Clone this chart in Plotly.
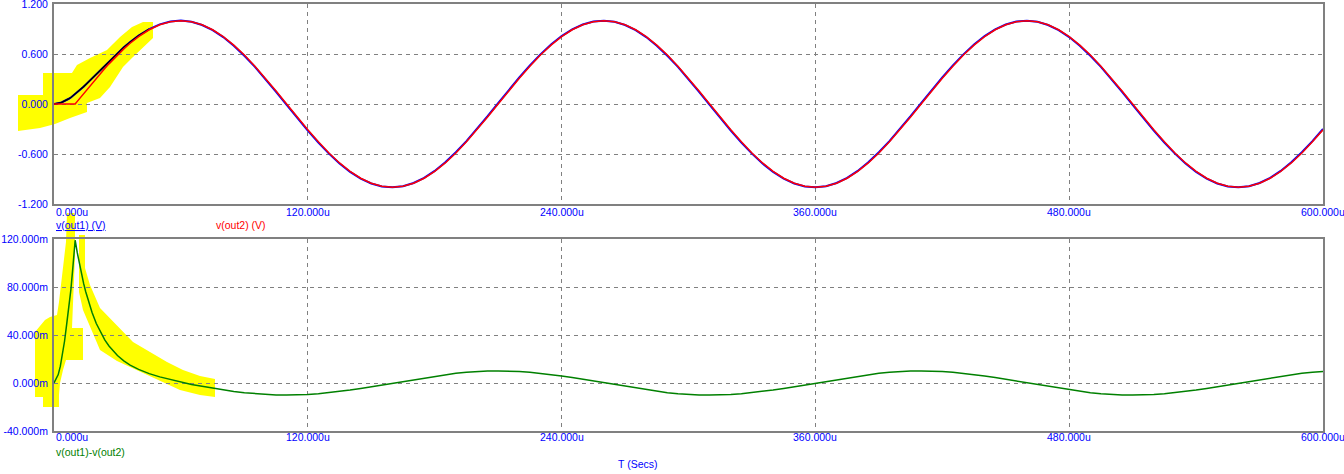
import plotly.graph_objects as go

# ---------------- data ----------------
T_US = [0, 1, 2, 3, 4, 5, 6, 7, 8, 9, 10, 11, 12, 13, 14, 15, 16, 18, 20, 22, 24, 26, 28, 30, 33, 36, 40, 45, 50, 55,
        60, 65, 70, 75, 80, 85, 90, 95, 100, 105,
        110, 115, 120, 125, 130, 135, 140, 145, 150, 155,
        160, 165, 170, 175, 180, 185, 190, 195, 200, 205,
        210, 215, 220, 225, 230, 235, 240, 245, 250, 255,
        260, 265, 270, 275, 280, 285, 290, 295, 300, 305,
        310, 315, 320, 325, 330, 335, 340, 345, 350, 355,
        360, 365, 370, 375, 380, 385, 390, 395, 400, 405,
        410, 415, 420, 425, 430, 435, 440, 445, 450, 455,
        460, 465, 470, 475, 480, 485, 490, 495, 500, 505,
        510, 515, 520, 525, 530, 535, 540, 545, 550, 555,
        560, 565, 570, 575, 580, 585, 590, 595, 600]

OUT2_V = [0, 0, 0, 0, 0, 0, 0, 0, 0, 0, 0, 0.0314, 0.0628, 0.0941, 0.1253, 0.1564, 0.1874, 0.2487, 0.3090, 0.3681,
          0.4258, 0.4818, 0.5358, 0.5878, 0.6613, 0.7290, 0.8090, 0.8910, 0.9511, 0.9877,
          1.0, 0.9877, 0.9511, 0.8910, 0.8090, 0.7071, 0.5878, 0.4540, 0.3090, 0.1564,
          0.0, -0.1564, -0.3090, -0.4540, -0.5878, -0.7071, -0.8090, -0.8910, -0.9511, -0.9877,
          -1.0, -0.9877, -0.9511, -0.8910, -0.8090, -0.7071, -0.5878, -0.4540, -0.3090, -0.1564,
          0.0, 0.1564, 0.3090, 0.4540, 0.5878, 0.7071, 0.8090, 0.8910, 0.9511, 0.9877,
          1.0, 0.9877, 0.9511, 0.8910, 0.8090, 0.7071, 0.5878, 0.4540, 0.3090, 0.1564,
          0.0, -0.1564, -0.3090, -0.4540, -0.5878, -0.7071, -0.8090, -0.8910, -0.9511, -0.9877,
          -1.0, -0.9877, -0.9511, -0.8910, -0.8090, -0.7071, -0.5878, -0.4540, -0.3090, -0.1564,
          0.0, 0.1564, 0.3090, 0.4540, 0.5878, 0.7071, 0.8090, 0.8910, 0.9511, 0.9877,
          1.0, 0.9877, 0.9511, 0.8910, 0.8090, 0.7071, 0.5878, 0.4540, 0.3090, 0.1564,
          0.0, -0.1564, -0.3090, -0.4540, -0.5878, -0.7071, -0.8090, -0.8910, -0.9511, -0.9877,
          -1.0, -0.9877, -0.9511, -0.8910, -0.8090, -0.7071, -0.5878, -0.4540, -0.3090]

OUT1_V = [0, 0.003, 0.007, 0.014, 0.024, 0.035, 0.049, 0.063, 0.078, 0.098, 0.119, 0.1400, 0.1620, 0.1849, 0.2083,
          0.2324, 0.2570, 0.3074, 0.3586, 0.4102, 0.4617, 0.5126, 0.5622, 0.6107, 0.6797, 0.7439, 0.8203, 0.8988,
          0.9562, 0.9905,
          1.0007, 0.9865, 0.9483, 0.8867, 0.8032, 0.7000, 0.5797, 0.4451, 0.2995, 0.1465,
          -0.0100, -0.1663, -0.3185, -0.4629, -0.5959, -0.7142, -0.8149, -0.8955, -0.9542, -0.9893,
          -1.0, -0.9861, -0.9480, -0.8865, -0.8031, -0.7000, -0.5797, -0.4451, -0.2995, -0.1465,
          0.0100, 0.1663, 0.3185, 0.4629, 0.5959, 0.7142, 0.8149, 0.8955, 0.9542, 0.9893,
          1.0, 0.9861, 0.9480, 0.8865, 0.8031, 0.7000, 0.5797, 0.4451, 0.2995, 0.1465,
          -0.0100, -0.1663, -0.3185, -0.4629, -0.5959, -0.7142, -0.8149, -0.8955, -0.9542, -0.9893,
          -1.0, -0.9861, -0.9480, -0.8865, -0.8031, -0.7000, -0.5797, -0.4451, -0.2995, -0.1465,
          0.0100, 0.1663, 0.3185, 0.4629, 0.5959, 0.7142, 0.8149, 0.8955, 0.9542, 0.9893,
          1.0, 0.9861, 0.9480, 0.8865, 0.8031, 0.7000, 0.5797, 0.4451, 0.2995, 0.1465,
          -0.0100, -0.1663, -0.3185, -0.4629, -0.5959, -0.7142, -0.8149, -0.8955, -0.9542, -0.9893,
          -1.0, -0.9861, -0.9480, -0.8865, -0.8031, -0.7000, -0.5797, -0.4451, -0.2995]

DIFF_V = [0, 0.003, 0.007, 0.014, 0.024, 0.035, 0.049, 0.063, 0.078, 0.098, 0.119, 0.1086, 0.0992, 0.0908, 0.0830,
          0.0760, 0.0696, 0.0587, 0.0496, 0.0421, 0.0359, 0.0308, 0.0264, 0.0229, 0.0184, 0.0149, 0.0113, 0.0078,
          0.0051, 0.0028,
          0.0007, -0.0012, -0.0028, -0.0043, -0.0058, -0.0071, -0.0081, -0.0089, -0.0095, -0.0099,
          -0.0100, -0.0099, -0.0095, -0.0089, -0.0081, -0.0071, -0.0059, -0.0045, -0.0031, -0.0016,
          0.0, 0.0016, 0.0031, 0.0045, 0.0059, 0.0071, 0.0081, 0.0089, 0.0095, 0.0099,
          0.0100, 0.0099, 0.0095, 0.0089, 0.0081, 0.0071, 0.0059, 0.0045, 0.0031, 0.0016,
          0.0, -0.0016, -0.0031, -0.0045, -0.0059, -0.0071, -0.0081, -0.0089, -0.0095, -0.0099,
          -0.0100, -0.0099, -0.0095, -0.0089, -0.0081, -0.0071, -0.0059, -0.0045, -0.0031, -0.0016,
          0.0, 0.0016, 0.0031, 0.0045, 0.0059, 0.0071, 0.0081, 0.0089, 0.0095, 0.0099,
          0.0100, 0.0099, 0.0095, 0.0089, 0.0081, 0.0071, 0.0059, 0.0045, 0.0031, 0.0016,
          0.0, -0.0016, -0.0031, -0.0045, -0.0059, -0.0071, -0.0081, -0.0089, -0.0095, -0.0099,
          -0.0100, -0.0099, -0.0095, -0.0089, -0.0081, -0.0071, -0.0059, -0.0045, -0.0031, -0.0016,
          0.0, 0.0016, 0.0031, 0.0045, 0.0059, 0.0071, 0.0081, 0.0089, 0.0095]

BLACK_END_US = 45  # early portion of v(out1) drawn in black

X_TICK_VALUES = [0, 120, 240, 360, 480, 600]
X_TICK_LABELS = ["0.000u", "120.000u", "240.000u", "360.000u", "480.000u", "600.000u"]
Y1_TICK_VALUES = [-1.2, -0.6, 0.0, 0.6, 1.2]
Y1_TICK_LABELS = ["-1.200", "-0.600", "0.000", "0.600", "1.200"]
Y2_TICK_VALUES = [-0.04, 0.0, 0.04, 0.08, 0.12]
Y2_TICK_LABELS = ["-40.000m", "0.000m", "40.000m", "80.000m", "120.000m"]

# yellow highlighter marks (time in us, value in V)
HL_TOP_T = [-17.02, -5.20, -5.20, 8.51, 10.87, 17.02, 25.06, 31.21, 36.88, 42.08, 46.81, 46.81, 37.35, 32.62,
            26.48, 21.75, 15.60, 15.60, 7.57, 0.47, -6.62, -17.02]
HL_TOP_V = [0.108, 0.108, 0.372, 0.372, 0.468, 0.552, 0.648, 0.804, 0.924, 0.984, 0.984, 0.792, 0.564, 0.444,
            0.204, 0.072, 0.012, -0.096, -0.168, -0.240, -0.288, -0.324]
HL_BOT_T = [-8.98, -4.26, -1.89, 1.42, 2.36, 3.78, 4.26, 5.20, 5.67, 6.15, 9.93, 9.93, 8.98, 8.51, 13.71, 13.71,
            5.67, 4.26, 2.84, 2.36, 2.36, -5.20, -5.20, -8.98, None,
            11.82, 14.66, 14.66, 17.02, 21.75, 29.79, 37.35, 45.39, 53.43, 60.99, 69.03, 76.12,
            76.12, 69.03, 59.57, 53.43, 45.39, 37.35, 29.79, 21.75, 17.02, 13.71, 11.82]
HL_BOT_V = [0.0425, 0.0525, 0.0550, 0.0567, 0.0675, 0.0875, 0.0958, 0.1092, 0.1175, 0.1417, 0.1417, 0.1067,
            0.0733, 0.0458, 0.0458, 0.0192, 0.0192, 0.0108, 0.0, -0.0100, -0.0200, -0.0200, -0.0117, -0.0117, None,
            0.1233, 0.1233, 0.0958, 0.0817, 0.0625, 0.0483, 0.0342, 0.0258, 0.0175, 0.0108, 0.0058, 0.0033,
            -0.0117, -0.0100, -0.0058, -0.0008, 0.0058, 0.0125, 0.0183, 0.0275, 0.0475, 0.0608, 0.0758]

# ---------------- layout geometry ----------------
W, H = 1344, 474
PX_L, PX_R = 54, 1323            # plot area left/right (px)
TOP_PY = (4, 204)                # top plot y extent (px)
BOT_PY = (239, 431)              # bottom plot y extent (px)
X_RANGE = [0, 600]
Y1_RANGE = [-1.2, 1.2]
Y2_RANGE = [-0.04, 0.12]

xdom = [PX_L / W, PX_R / W]
y1dom = [1 - TOP_PY[1] / H, 1 - TOP_PY[0] / H]
y2dom = [1 - BOT_PY[1] / H, 1 - BOT_PY[0] / H]

# full-figure helper axes (same units, extended to the whole page) for the highlighter marks
kx = (X_RANGE[1] - X_RANGE[0]) / (PX_R - PX_L)
full_x = [X_RANGE[0] - PX_L * kx, X_RANGE[1] + (W - PX_R) * kx]
k1 = (Y1_RANGE[1] - Y1_RANGE[0]) / (TOP_PY[1] - TOP_PY[0])
full_y1 = [Y1_RANGE[0] - (H - TOP_PY[1]) * k1, Y1_RANGE[1] + TOP_PY[0] * k1]
k2 = (Y2_RANGE[1] - Y2_RANGE[0]) / (BOT_PY[1] - BOT_PY[0])
full_y2 = [Y2_RANGE[0] - (H - BOT_PY[1]) * k2, Y2_RANGE[1] + BOT_PY[0] * k2]

BLUE = "#0000FF"
RED = "#FF0000"
GREEN = "#008000"
GRAY = "#808080"
YELLOW = "#FFFF00"
FONT = "Liberation Sans"
FS = 10.5

fig = go.Figure()

# highlighter marks (lowest layer)
fig.add_trace(go.Scatter(x=HL_TOP_T, y=HL_TOP_V, xaxis="x", yaxis="y", mode="lines", fill="toself",
                         fillcolor=YELLOW, line=dict(width=0, color=YELLOW), hoverinfo="skip", showlegend=False))
fig.add_trace(go.Scatter(x=HL_BOT_T, y=HL_BOT_V, xaxis="x", yaxis="y4", mode="lines", fill="toself",
                         fillcolor=YELLOW, line=dict(width=0, color=YELLOW), hoverinfo="skip", showlegend=False))

# top plot
fig.add_trace(go.Scatter(x=T_US, y=OUT1_V, xaxis="x2", yaxis="y2", mode="lines",
                         line=dict(color=BLUE, width=2), name="v(out1) (V)", showlegend=False))
t_black = [t for t in T_US if t <= BLACK_END_US]
v_black = OUT1_V[:len(t_black)]
fig.add_trace(go.Scatter(x=t_black, y=v_black, xaxis="x2", yaxis="y2", mode="lines",
                         line=dict(color="#000000", width=1.5), showlegend=False))
fig.add_trace(go.Scatter(x=T_US, y=OUT2_V, xaxis="x2", yaxis="y2", mode="lines",
                         line=dict(color=RED, width=1.5), name="v(out2) (V)", showlegend=False))

# bottom plot
fig.add_trace(go.Scatter(x=T_US, y=DIFF_V, xaxis="x3", yaxis="y3", mode="lines",
                         line=dict(color=GREEN, width=1.5), name="v(out1)-v(out2)", showlegend=False))

axis_common = dict(showline=True, mirror=True, linecolor=GRAY, linewidth=2,
                   showgrid=True, gridcolor=GRAY, gridwidth=1, griddash="4px,4px",
                   zeroline=False, ticks="", fixedrange=True, automargin=False)
hidden = dict(visible=False, fixedrange=True, automargin=False)

fig.update_layout(
    width=W, height=H,
    margin=dict(l=0, r=0, t=0, b=0, pad=0, autoexpand=False),
    paper_bgcolor="white", plot_bgcolor="rgba(0,0,0,0)",
    showlegend=False,
    font=dict(family=FONT, size=FS, color=BLUE),
    xaxis=dict(domain=[0, 1], range=full_x, **hidden),
    yaxis=dict(domain=[0, 1], range=full_y1, **hidden),
    yaxis4=dict(overlaying="y", range=full_y2, **hidden),
    xaxis2=dict(domain=xdom, range=X_RANGE, anchor="y2", tickvals=X_TICK_VALUES,
                showticklabels=False, **axis_common),
    yaxis2=dict(domain=y1dom, range=Y1_RANGE, anchor="x2", tickvals=Y1_TICK_VALUES, ticktext=Y1_TICK_LABELS,
                tickfont=dict(family=FONT, size=FS, color=BLUE), ticklabelstandoff=2,
                ticklabeloverflow="allow", **axis_common),
    xaxis3=dict(domain=xdom, range=X_RANGE, anchor="y3", tickvals=X_TICK_VALUES,
                showticklabels=False, **axis_common),
    yaxis3=dict(domain=y2dom, range=Y2_RANGE, anchor="x3", tickvals=Y2_TICK_VALUES, ticktext=Y2_TICK_LABELS,
                tickfont=dict(family=FONT, size=FS, color=BLUE), ticklabelstandoff=2,
                ticklabeloverflow="allow", **axis_common),
)

annotations = []
# x tick labels under each plot
for row_axis, py in (("x2", 212), ("x3", 437)):
    for val, lab in zip(X_TICK_VALUES, X_TICK_LABELS):
        annotations.append(dict(x=val, xref=row_axis, y=1 - py / H, yref="paper", text=lab, showarrow=False,
                                xanchor="left" if val == X_TICK_VALUES[0] else "center", yanchor="middle",
                                font=dict(family=FONT, size=FS, color=BLUE)))

# trace labels / axis title / page title
annotations += [
    dict(x=PX_L / W, y=1 - 225 / H, xref="paper", yref="paper", text="<u>v(out1) (V)</u>", showarrow=False,
         xanchor="left", yanchor="middle", font=dict(family=FONT, size=FS, color=BLUE)),
    dict(x=214 / W, y=1 - 225 / H, xref="paper", yref="paper", text="v(out2) (V)", showarrow=False,
         xanchor="left", yanchor="middle", font=dict(family=FONT, size=FS, color=RED)),
    dict(x=PX_L / W, y=1 - 452 / H, xref="paper", yref="paper", text="v(out1)-v(out2)", showarrow=False,
         xanchor="left", yanchor="middle", font=dict(family=FONT, size=FS, color=GREEN)),
    dict(x=616 / W, y=1 - 464 / H, xref="paper", yref="paper", text="T (Secs)", showarrow=False,
         xanchor="left", yanchor="middle", font=dict(family=FONT, size=FS, color=BLUE)),
    dict(x=688 / W, y=1 - 4 / H, xref="paper", yref="paper", text="PLL Estimator.cir", showarrow=False,
         xanchor="center", yanchor="bottom", font=dict(family=FONT, size=FS, color=BLUE)),
]
fig.update_layout(annotations=annotations)

# the page's default 8px body margin would shift the whole figure; remove it
fig.write_html("out.html", config={"displayModeBar": False},
               post_script="document.body.style.margin='0';")
